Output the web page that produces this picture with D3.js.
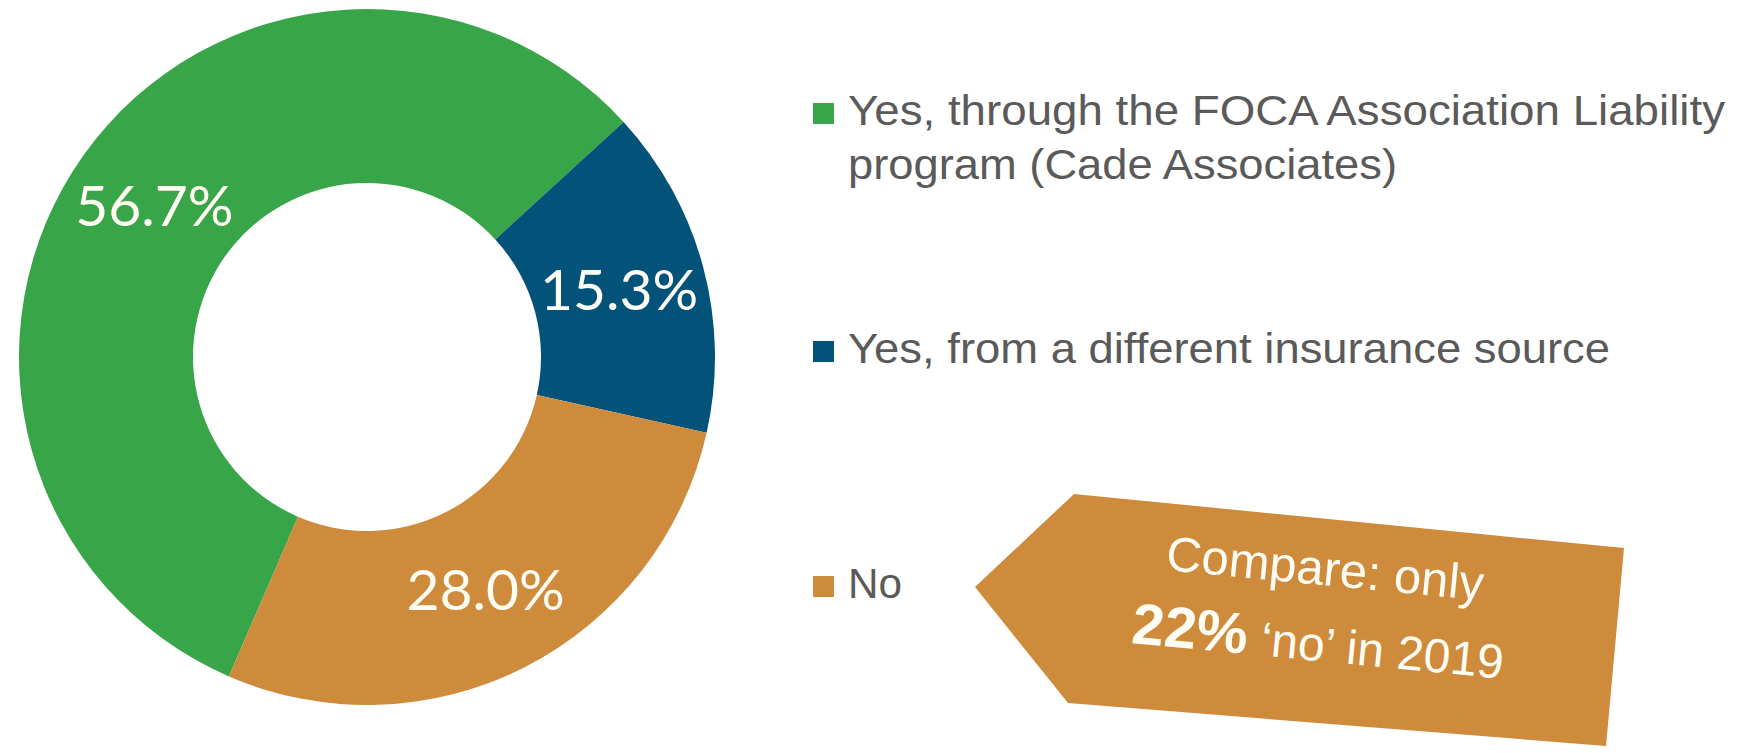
<!DOCTYPE html>
<html>
<head>
<meta charset="utf-8">
<script src="https://cdn.jsdelivr.net/npm/d3@7"></script>
<style>
  body { margin: 0; background: #fff; }
  svg { display: block; }
</style>
</head>
<body>
<div class="chart"></div>
<script>
// survey answers, in drawing order (clockwise from the green slice)
const categories = ["foca", "other", "no"];
const values = [56.7, 15.3, 28.0];
const valueLabels = ["56.7%", "15.3%", "28.0%"];
const legendLines = [
  ["Yes, through the FOCA Association Liability", "program (Cade Associates)"],
  ["Yes, from a different insurance source"],
  ["No"]
];
const legendWidths = [[877, 549], [762], [54]];
const colors = ["#38a648", "#02527a", "#cf8b3c"];
const calloutLine1 = "Compare: only";
const calloutBold = "22%";
const calloutRest = " \u2018no\u2019 in 2019";

const width = 1737, height = 753;
const cx = 367, cy = 357, outerR = 348, innerR = 174;

let svg = d3.select("div.chart").append("svg")
    .attr("width", width)
    .attr("height", height);

let rad = (deg) => deg * Math.PI / 180;
// blue slice begins at about 47.5deg, so green starts one green-share earlier
let start = rad(47.5) - values[0] / d3.sum(values) * 2 * Math.PI;

let pie = d3.pie()
    .sort(null)
    .startAngle(start)
    .endAngle(start + 2 * Math.PI);

let arc = d3.arc()
    .innerRadius(innerR)
    .outerRadius(outerR);

let arcs = pie(values);

let donut = svg.append("g")
    .attr("transform", `translate(${cx},${cy})`);

donut.selectAll("path.slice")
    .data(arcs)
    .enter().append("path")
    .attr("class", "slice")
    .attr("d", arc)
    .style("fill", (d, i) => colors[i]);

donut.selectAll("text.value")
    .data(arcs)
    .enter().append("text")
    .attr("class", "value")
    .attr("x", (d) => arc.centroid(d)[0])
    .attr("y", (d) => arc.centroid(d)[1])
    .attr("dy", "0.36em")
    .attr("text-anchor", "middle")
    .style("font-family", "Lato, 'Open Sans', sans-serif")
    .style("font-size", "57px")
    .style("fill", "#fffdf4")
    .text((d, i) => valueLabels[i]);

// legend
let legendX = 813, textX = 848;
let baselines = [125, 363, 598];
let legend = svg.selectAll("g.legend")
    .data(categories)
    .enter().append("g")
    .attr("class", "legend");

legend.append("rect")
    .attr("x", legendX)
    .attr("y", (d, i) => baselines[i] - 22)
    .attr("width", 21)
    .attr("height", 21)
    .style("fill", (d, i) => colors[i]);

legend.each(function(d, i) {
  let g = d3.select(this);
  legendLines[i].forEach((line, j) => {
    g.append("text")
      .attr("x", textX)
      .attr("y", baselines[i] + j * 54)
      .attr("textLength", legendWidths[i][j])
      .attr("lengthAdjust", "spacingAndGlyphs")
      .style("font-family", "'Liberation Sans', Arial, sans-serif")
      .style("font-size", "43px")
      .style("fill", "#5a5a5a")
      .text(line);
  });
});

// callout arrow pointing at the "No" entry
let arrowPts = [[975, 587], [1074, 494], [1624, 548], [1606, 746], [1068, 703]];
svg.append("path")
    .attr("d", d3.line()(arrowPts) + "Z")
    .style("fill", "#cf8b3c");

let callout = svg.append("g")
    .attr("transform", "translate(1320,623) rotate(5.5)")
    .style("font-family", "'Liberation Sans', Arial, sans-serif")
    .style("fill", "#fffdf4")
    .attr("text-anchor", "middle");

callout.append("text")
    .attr("x", 0)
    .attr("y", -38)
    .style("font-size", "49px")
    .text(calloutLine1);

let line2 = callout.append("text")
    .attr("x", 0)
    .attr("y", 38)
    .style("font-size", "48px");
line2.append("tspan")
    .style("font-weight", "bold")
    .style("font-size", "58px")
    .text(calloutBold);
line2.append("tspan")
    .text(calloutRest);
</script>
</body>
</html>
